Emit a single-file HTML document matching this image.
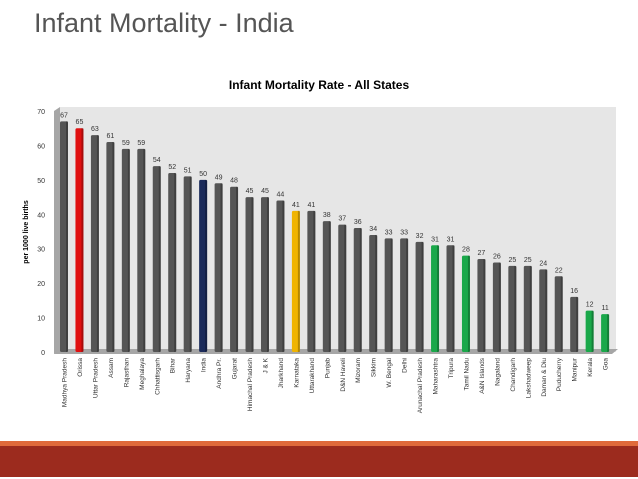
<!DOCTYPE html>
<html><head><meta charset="utf-8"><style>
body{margin:0;width:638px;height:479px;background:#fff;overflow:hidden;position:relative;font-family:"Liberation Sans",sans-serif}
#title{position:absolute;left:34px;top:8px;font-size:27px;color:#555;font-weight:300}
#band1{position:absolute;left:0;top:441px;width:638px;height:5px;background:#e06a3b}
#band2{position:absolute;left:0;top:446px;width:638px;height:31px;background:#9c2b1e}
</style></head><body>
<div id="title">Infant Mortality - India</div>
<div id="band1"></div>
<div id="band2"></div>
<svg id="chart" width="638" height="440" style="position:absolute;left:0;top:0" font-family="Liberation Sans, sans-serif"></svg>
<script>
const categories=["Madhya Pradesh","Orissa","Uttar Pradesh","Assam","Rajasthan","Meghalaya","Chhattisgarh","Bihar","Haryana","India","Andhra Pr.","Gujarat","Himachal Pradesh","J & K","Jharkhand","Karnataka","Uttarakhand","Punjab","D&N Haveli","Mizoram","Sikkim","W. Bengal","Delhi","Arunachal Pradesh","Maharashtra","Tripura","Tamil Nadu","A&N Islands","Nagaland","Chandigarh","Lakshadweep","Daman & Diu","Puducherry","Manipur","Kerala","Goa"];
const values=[67,65,63,61,59,59,54,52,51,50,49,48,45,45,44,41,41,38,37,36,34,33,33,32,31,31,28,27,26,25,25,24,22,16,12,11];
const highlight={"Orissa":"#e01010","India":"#1a2a5a","Karnataka":"#f0b400","Maharashtra":"#1aa84a","Tamil Nadu":"#1aa84a","Kerala":"#1aa84a","Goa":"#1aa84a"};
const yTicks=[0,10,20,30,40,50,60,70];
const NS="http://www.w3.org/2000/svg";
const svg=document.getElementById('chart');
const y0=352,yTop=111,yMax=70,x0=64,step=15.46;
const ys=v=>y0-(v/yMax)*(y0-yTop);
const xs=i=>x0+i*step;
function mk(t,a){const e=document.createElementNS(NS,t);for(const k in a)e.setAttribute(k,a[k]);svg.appendChild(e);return e;}
let bg=mk('rect',{x:60,y:107,width:556,height:245,fill:'#e6e6e6'});


let wall=mk('polygon',{points:'54,111 60,107 60,350 54,354',fill:'#a6a6a6'});


let floor=mk('polygon',{points:'54,354 60,349 618,349 612,354',fill:'#a6a6a6'});


let ct=mk('text',{x:319,y:89,'text-anchor':'middle','font-size':12,'font-weight':'bold',fill:'#000'});
ct.textContent='Infant Mortality Rate - All States';


let yt=mk('text',{x:0,y:0,'text-anchor':'middle','font-size':7,'font-weight':'bold',transform:'translate(28,232) rotate(-90)'});
yt.textContent='per 1000 live births';


yTicks.forEach(t=>{const e=mk('text',{x:45,y:ys(t)+3,'text-anchor':'end','font-size':7,fill:'#333'});e.textContent=t;

});
categories.forEach((c,i)=>{
 const v=values[i],x=xs(i),col=highlight[c]||'#555555',top=ys(v);
 const b=mk('rect',{x:x-4,y:top,width:8,height:y0-top,fill:col,rx:1.5});
 
 
 mk('rect',{x:x+2,y:top,width:2,height:y0-top,fill:'rgba(0,0,0,0.25)'});
 const l=mk('text',{x:x,y:top-4,'text-anchor':'middle','font-size':7,fill:'#333'});l.textContent=v;
 
 
 const cl=mk('text',{x:0,y:0,'text-anchor':'end','font-size':6.5,fill:'#333',transform:`translate(${x+2.5},358) rotate(-90)`});cl.textContent=c;
 
 
});
</script>
</body></html>
